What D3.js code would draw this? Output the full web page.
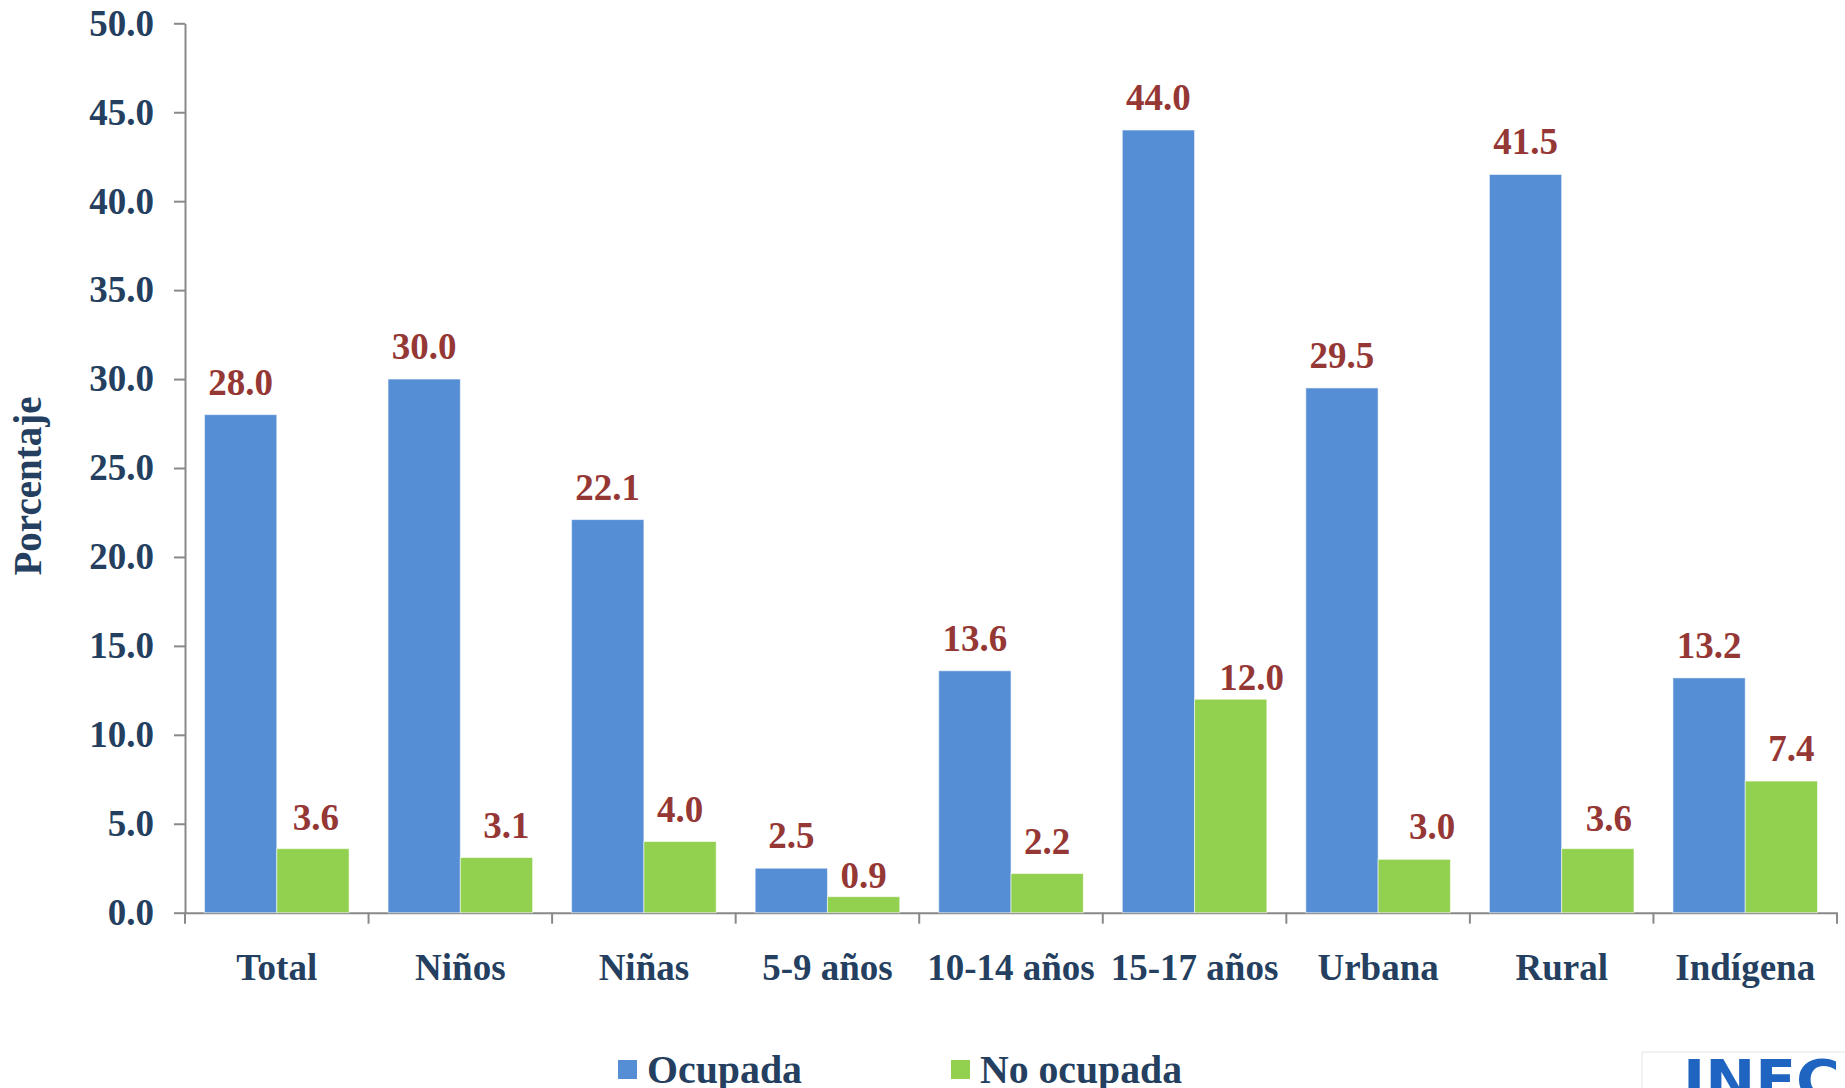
<!DOCTYPE html>
<html>
<head>
<meta charset="utf-8">
<script src="https://cdn.jsdelivr.net/npm/d3@7"></script>
<style>
  html, body { margin: 0; padding: 0; background: #fff; }
  svg { display: block; }
</style>
</head>
<body>
<svg id="chart" width="1845" height="1088"></svg>
<script>
const categories = ["Total", "Niños", "Niñas", "5-9 años", "10-14 años", "15-17 años", "Urbana", "Rural", "Indígena"];
const seriesNames = ["Ocupada", "No ocupada"];
const ocupada = [28.0, 30.0, 22.1, 2.5, 13.6, 44.0, 29.5, 41.5, 13.2];
const noOcupada = [3.6, 3.1, 4.0, 0.9, 2.2, 12.0, 3.0, 3.6, 7.4];
const yTicks = [0, 5, 10, 15, 20, 25, 30, 35, 40, 45, 50];
const yTitle = "Porcentaje";
const logoText = "INEC";

(function () {
const colors = ["#558ED5", "#92D050"];
const navy = "#243F60";
const red = "#953735";
const axisGray = "#898989";
const serif = "'Liberation Serif', 'Times New Roman', serif";
// manual nudges of the "No ocupada" value labels (as placed in the original)
const greenNudgeX = [3, 10, 0, 0, 0, 21, 18, 11, 10];
const greenNudgeY = [1, 0, 0, 11, 0, 11, 0, 2, 0];

const svg = d3.select("#chart");
const mLeft = 185, mRight = 1837, mTop = 23.3, mBottom = 912.7;

const x0 = d3.scaleBand().domain(categories).range([mLeft, mRight]).padding(0);
const x1 = d3.scaleBand().domain(seriesNames).range([19.5, x0.bandwidth() - 19.5]).padding(0);
const y = d3.scaleLinear().domain([0, 50]).range([mBottom, mTop]);

// Y axis
const yAxis = svg.append("g")
  .attr("transform", `translate(${mLeft},0)`)
  .call(d3.axisLeft(y).tickValues(yTicks).tickFormat(d3.format(".1f")).tickSize(11).tickSizeOuter(0).tickPadding(20));
yAxis.select(".domain").attr("stroke", axisGray).attr("stroke-width", 2);
yAxis.selectAll(".tick line").attr("stroke", axisGray).attr("stroke-width", 2);
yAxis.selectAll(".tick text")
  .attr("fill", navy).attr("font-family", serif).attr("font-weight", "bold").attr("font-size", 37);

// X axis line and boundary ticks
const xAxis = svg.append("g")
  .attr("transform", `translate(0,${mBottom})`)
  .call(d3.axisBottom(x0).tickSize(0).tickSizeOuter(0).tickPadding(41));
xAxis.select(".domain").attr("stroke", axisGray).attr("stroke-width", 2);
xAxis.selectAll(".tick text")
  .attr("fill", navy).attr("font-family", serif).attr("font-weight", "bold").attr("font-size", 37)
  .attr("dy", "0.71em");
const boundaries = categories.map(c => x0(c)).concat([x0.range()[1]]);
xAxis.selectAll("line.bnd").data(boundaries).join("line")
  .attr("class", "bnd")
  .attr("x1", d => d).attr("x2", d => d)
  .attr("y1", 0).attr("y2", 11)
  .attr("stroke", axisGray).attr("stroke-width", 2);

// Bars
const rows = categories.map((c, i) => ({ cat: c, i, vals: [ocupada[i], noOcupada[i]] }));
const groups = svg.append("g").selectAll("g").data(rows).join("g")
  .attr("transform", d => `translate(${x0(d.cat)},0)`);
const items = d => d.vals.map((v, j) => ({ s: seriesNames[j], v, j, i: d.i }));
groups.selectAll("rect").data(items).join("rect")
  .attr("x", d => x1(d.s))
  .attr("y", d => y(d.v))
  .attr("width", x1.bandwidth())
  .attr("height", d => y(0) - y(d.v))
  .attr("fill", d => colors[d.j])
  .attr("stroke", "rgba(255,255,255,0.55)")
  .attr("stroke-width", 1);
groups.selectAll("text").data(items).join("text")
  .attr("x", d => x1(d.s) + x1.bandwidth() / 2 + (d.j === 1 ? greenNudgeX[d.i] : 0))
  .attr("y", d => y(d.v) - 20 + (d.j === 1 ? greenNudgeY[d.i] : 0))
  .attr("text-anchor", "middle")
  .attr("fill", red).attr("font-family", serif).attr("font-weight", "bold").attr("font-size", 37)
  .text(d => d3.format(".1f")(d.v));

// Y title
svg.append("text")
  .attr("transform", "translate(41,486) rotate(-90)")
  .attr("text-anchor", "middle")
  .attr("fill", navy).attr("font-family", serif).attr("font-weight", "bold").attr("font-size", 39)
  .text(yTitle);

// Legend
const legendItems = [
  { name: seriesNames[0], sx: 618, tx: 647, tl: 155 },
  { name: seriesNames[1], sx: 951, tx: 980, tl: 202 }
];
const leg = svg.append("g");
legendItems.forEach((d, i) => {
  leg.append("rect").attr("x", d.sx).attr("y", 1060).attr("width", 19).attr("height", 19).attr("fill", colors[i]);
  leg.append("text").attr("x", d.tx).attr("y", 1083)
    .attr("fill", navy).attr("font-family", serif).attr("font-weight", "bold").attr("font-size", 40)
    .attr("textLength", d.tl).attr("lengthAdjust", "spacingAndGlyphs")
    .text(d.name);
});

// Logo (partially visible)
svg.append("path").attr("d", "M1642,1088 L1642,1052 L1845,1052")
  .attr("fill", "none").attr("stroke", "#e4e4e4").attr("stroke-width", 1);
svg.append("text").attr("x", 1683).attr("y", 1099)
  .attr("fill", "#1E64C0").attr("font-family", "'DejaVu Sans', sans-serif").attr("font-weight", "bold").attr("font-size", 56)
  .attr("textLength", 157).attr("lengthAdjust", "spacingAndGlyphs")
  .text(logoText);
})();
</script>
</body>
</html>
